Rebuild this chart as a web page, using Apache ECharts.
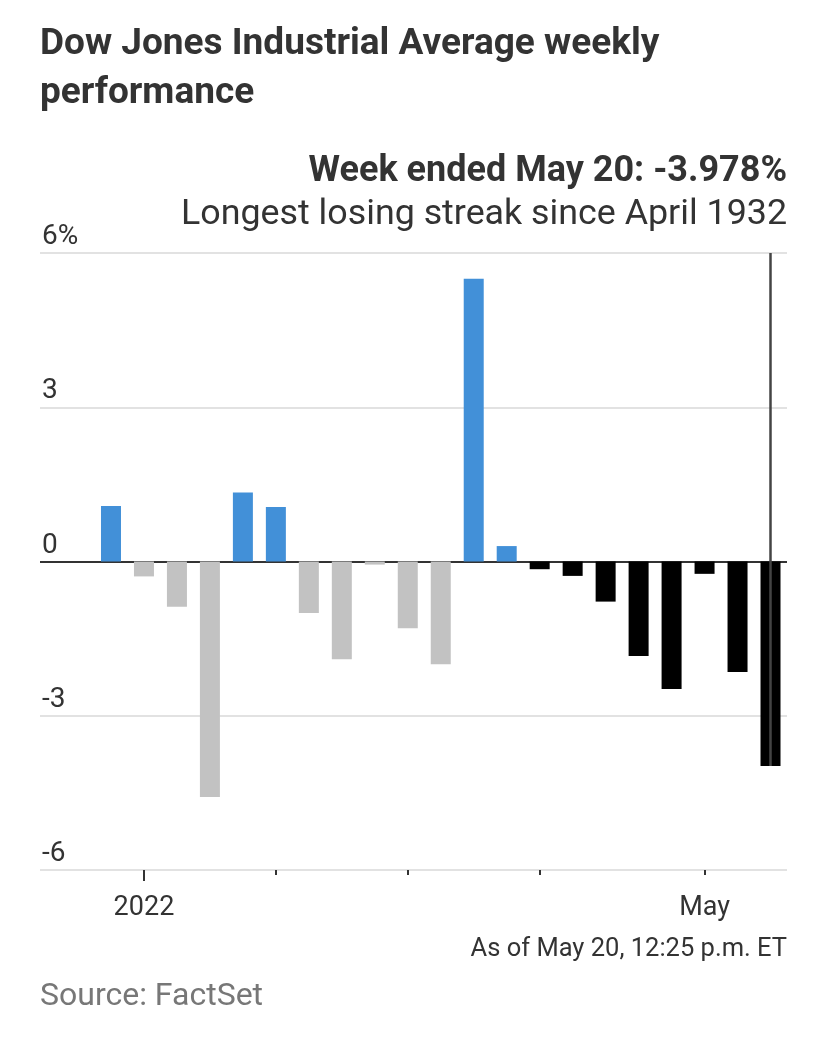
<!DOCTYPE html>
<html>
<head>
<meta charset="utf-8">
<style>
  html, body { margin: 0; padding: 0; background: #fff; }
  #chart { width: 828px; height: 1042px; }
</style>
<script src="https://cdn.jsdelivr.net/npm/echarts@6/dist/echarts.min.js"></script>
</head>
<body>
<div id="chart"></div>
<script>
// Week-ended dates (Fridays) and weekly % change of the Dow Jones Industrial Average
const weeks = [
  '2021-12-31', '2022-01-07', '2022-01-14', '2022-01-21', '2022-01-28',
  '2022-02-04', '2022-02-11', '2022-02-18', '2022-02-25', '2022-03-04',
  '2022-03-11', '2022-03-18', '2022-03-25', '2022-04-01', '2022-04-08',
  '2022-04-14', '2022-04-22', '2022-04-29', '2022-05-06', '2022-05-13',
  '2022-05-20'
];
const weeklyChange = [
  1.08, -0.29, -0.88, -4.58, 1.34,
  1.06, -1.00, -1.90, -0.06, -1.30,
  -2.00, 5.50, 0.30, -0.15, -0.28,
  -0.78, -1.84, -2.48, -0.24, -2.15,
  -3.978
];
// first week of the losing streak
const streakStart = '2022-04-01';
// month ticks on the x axis and their labels
const majorTick = ['2022-01-07'];
const minorTicks = ['2022-02-04', '2022-03-04', '2022-04-01', '2022-05-06'];
const tickLabels = { '2022-01-07': '2022', '2022-05-06': 'May' };
const yTicks = [-6, -3, 0, 3, 6];

const FONT = 'Roboto, "Noto Sans", sans-serif';
const TEXT = '#333333';
const BLUE = '#4290d8';
const GRAY = '#c2c2c2';
const BLACK = '#000000';

const chart = echarts.init(document.getElementById('chart'), null, { renderer: 'canvas' });
const streakIdx = weeks.indexOf(streakStart);
const lastIdx = weeks.length - 1;

const option = {
  animation: false,
  backgroundColor: '#ffffff',
  textStyle: { fontFamily: FONT },
  graphic: [
    { type: 'text', left: 40, top: 20, style: {
        text: 'Dow Jones Industrial Average weekly\nperformance',
        font: 'bold 37px ' + FONT, fill: TEXT, lineHeight: 49 } },
    { type: 'text', x: 787, y: 172, style: {
        text: 'Week ended May 20: -3.978%', align: 'right', verticalAlign: 'middle',
        font: 'bold 36px ' + FONT, fill: TEXT } },
    { type: 'text', x: 787, y: 215, style: {
        text: 'Longest losing streak since April 1932', align: 'right', verticalAlign: 'middle',
        font: '35.8px ' + FONT, fill: TEXT } },
    { type: 'text', x: 787, y: 950, style: {
        text: 'As of May 20, 12:25 p.m. ET', align: 'right', verticalAlign: 'middle',
        font: '25.5px ' + FONT, fill: TEXT } },
    { type: 'text', x: 40, y: 997, style: {
        text: 'Source: FactSet', align: 'left', verticalAlign: 'middle',
        font: '32px ' + FONT, fill: '#777777' } }
  ],
  grid: [
    { left: 40, right: 41, top: 253, bottom: 172 },
    { left: 94.5, right: 41, top: 253, bottom: 172 }
  ],
  xAxis: [
    { type: 'value', gridIndex: 0, show: false, min: 0, max: 1 },
    {
      type: 'category', gridIndex: 1, data: weeks, boundaryGap: true, position: 'bottom',
      axisLine: { show: false, onZero: false },
      axisTick: { show: true, alignWithLabel: true, length: 11,
        interval: (i, v) => majorTick.includes(v),
        lineStyle: { color: TEXT, width: 2 } },
      axisLabel: { show: true, margin: 25, fontSize: 27, color: TEXT, fontFamily: FONT,
        interval: (i, v) => v in tickLabels,
        formatter: v => tickLabels[v] || '' },
      splitLine: { show: false }
    },
    {
      type: 'category', gridIndex: 1, data: weeks, boundaryGap: true, position: 'bottom',
      axisLine: { show: false, onZero: false },
      axisTick: { show: true, alignWithLabel: true, length: 5,
        interval: (i, v) => minorTicks.includes(v),
        lineStyle: { color: TEXT, width: 2 } },
      axisLabel: { show: false },
      splitLine: { show: false }
    }
  ],
  yAxis: [
    {
      type: 'value', gridIndex: 0, min: yTicks[0], max: yTicks[yTicks.length - 1], interval: 3,
      axisLine: { show: false }, axisTick: { show: false },
      axisLabel: { inside: true, align: 'left', verticalAlign: 'bottom', margin: 2,
        padding: [0, 0, 2, 0], fontSize: 28, color: TEXT, fontFamily: FONT,
        formatter: v => (v === yTicks[yTicks.length - 1] ? v + '%' : String(v)) },
      splitLine: { show: true, lineStyle: {
        color: yTicks.map(t => (t === 0 ? '#333333' : '#e2e2e2')), width: 2 } }
    },
    { type: 'value', gridIndex: 1, min: yTicks[0], max: yTicks[yTicks.length - 1], interval: 3,
      show: false, splitLine: { show: false } }
  ],
  series: [{
    type: 'bar', xAxisIndex: 1, yAxisIndex: 1, barWidth: 20,
    data: weeklyChange,
    itemStyle: { color: p => (p.dataIndex >= streakIdx ? BLACK : (p.value >= 0 ? BLUE : GRAY)) },
    markLine: {
      silent: true, symbol: ['none', 'none'], label: { show: false }, z: 10,
      lineStyle: { color: '#444444', width: 2.5, type: 'solid' },
      data: [[ { coord: [lastIdx, yTicks[yTicks.length - 1]] },
               { coord: [lastIdx, weeklyChange[lastIdx]] } ]]
    }
  }]
};
chart.setOption(option);
</script>
</body>
</html>
